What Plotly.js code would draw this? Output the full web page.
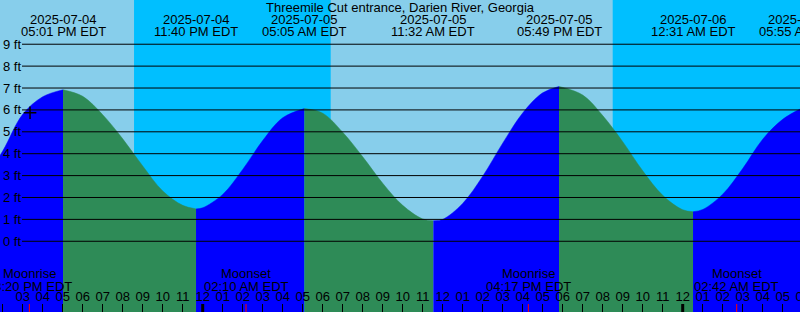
<!DOCTYPE html>
<html>
<head>
<meta charset="utf-8">
<script src="https://cdn.plot.ly/plotly-3.0.1.min.js"></script>
<style>html,body{margin:0;padding:0;overflow:hidden;background:#87CEEB}</style>
</head>
<body>
<div id="chart"></div>
<script>
const titleText = 'Threemile Cut entrance, Darien River, Georgia';

// Tide height read at each hour (ft)
const hourTimes = [
  '2025-07-04 13:00','2025-07-04 14:00','2025-07-04 15:00','2025-07-04 16:00','2025-07-04 17:00',
  '2025-07-04 18:00','2025-07-04 19:00','2025-07-04 20:00','2025-07-04 21:00','2025-07-04 22:00','2025-07-04 23:00',
  '2025-07-05 00:00','2025-07-05 01:00','2025-07-05 02:00','2025-07-05 03:00','2025-07-05 04:00','2025-07-05 05:00',
  '2025-07-05 06:00','2025-07-05 07:00','2025-07-05 08:00','2025-07-05 09:00','2025-07-05 10:00','2025-07-05 11:00',
  '2025-07-05 12:00','2025-07-05 13:00','2025-07-05 14:00','2025-07-05 15:00','2025-07-05 16:00','2025-07-05 17:00',
  '2025-07-05 18:00','2025-07-05 19:00','2025-07-05 20:00','2025-07-05 21:00','2025-07-05 22:00','2025-07-05 23:00',
  '2025-07-06 00:00','2025-07-06 01:00','2025-07-06 02:00','2025-07-06 03:00','2025-07-06 04:00','2025-07-06 05:00',
  '2025-07-06 06:00'
];
const hourHeights = [
  2.7, 4.12, 5.8, 6.6, 6.92,
  6.62, 5.78, 4.68, 3.44, 2.3, 1.64,
  1.53, 2.14, 3.28, 4.6, 5.64, 6.05,
  5.85, 4.98, 3.86, 2.65, 1.64, 1.02,
  1.0, 1.73, 2.97, 4.48, 5.86, 6.78,
  7.04, 6.68, 5.74, 4.55, 3.22, 2.1,
  1.44, 1.45, 2.15, 3.32, 4.66, 5.57,
  6.05
];

// High / low tide events
const eventTimes = ['2025-07-04 17:01','2025-07-04 23:40','2025-07-05 05:05','2025-07-05 11:32','2025-07-05 17:49','2025-07-06 00:31','2025-07-06 05:55'];
const eventHeights = [6.92, 1.48, 6.06, 0.94, 7.07, 1.35, 6.06];
const eventDates = ['2025-07-04','2025-07-04','2025-07-05','2025-07-05','2025-07-05','2025-07-06','2025-07-06'];
const eventClock = ['05:01 PM EDT','11:40 PM EDT','05:05 AM EDT','11:32 AM EDT','05:49 PM EDT','12:31 AM EDT','05:55 AM EDT'];

// Moon events
const moonTimes = ['2025-07-04 15:20','2025-07-05 02:10','2025-07-05 16:17','2025-07-06 02:42'];
const moonNames = ['Moonrise','Moonset','Moonrise','Moonset'];
const moonClock = ['03:20 PM EDT','02:10 AM EDT','04:17 PM EDT','02:42 AM EDT'];

// Night periods (sunset -> sunrise)
const nightStarts = ['2025-07-04 20:34','2025-07-05 20:30'];
const nightEnds = ['2025-07-05 06:24','2025-07-06 06:24'];

const midnights = ['2025-07-05 00:00','2025-07-06 00:00'];

const heightTicks = [0,1,2,3,4,5,6,7,8,9];
const heightTickText = ['0 ft','1 ft','2 ft','3 ft','4 ft','5 ft','6 ft','7 ft','8 ft','9 ft'];

const markTime = ['2025-07-04 15:22'];
const markHeight = [5.87];

// ---------- styling ----------
const FONT = 'Liberation Sans, Arial, sans-serif';
const DAY = '#87CEEB', NIGHT = '#00BFFF', RISE = '#0000FF', FALL = '#2E8B57';
const W = 810, H = 312;
const yBottom = -5;
const toMs = s => new Date(s.replace(' ', 'T')).getTime();
const GAP = 15 * 60 * 1000; // skip hourly readings this close to an extreme

// build segments between extremes
const bounds = [{t: hourTimes[0], h: hourHeights[0]}].concat(eventTimes.map((t, i) => ({t, h: eventHeights[i]})));
const traces = [];
for (let s = 0; s < bounds.length - 1; s++) {
  const a = bounds[s], b = bounds[s + 1];
  const xs = [a.t], ys = [a.h];
  hourTimes.forEach((t, i) => {
    const m = toMs(t);
    if (m > toMs(a.t) + GAP && m < toMs(b.t) - GAP) { xs.push(t); ys.push(hourHeights[i]); }
  });
  xs.push(b.t); ys.push(b.h);
  const col = b.h > a.h ? RISE : FALL;
  traces.push({x: [a.t, b.t], y: [yBottom, yBottom], mode: 'lines', line: {width: 0}, hoverinfo: 'skip', showlegend: false});
  traces.push({x: xs, y: ys, mode: 'lines', line: {width: 0.5, color: col, shape: 'spline', smoothing: 1}, fill: 'tonexty', fillcolor: col, hoverinfo: 'skip', showlegend: false});
}
traces.push({x: markTime, y: markHeight, mode: 'markers', marker: {symbol: 'cross-thin-open', size: 9, line: {width: 1.5, color: '#000'}, color: '#000'}, showlegend: false, hoverinfo: 'skip'});

const shapes = [];
nightStarts.forEach((t, i) => shapes.push({type: 'rect', xref: 'x', yref: 'paper', x0: t, x1: nightEnds[i], y0: 0, y1: 1, fillcolor: NIGHT, line: {width: 0}, layer: 'below'}));
heightTicks.forEach(v => shapes.push({type: 'line', xref: 'paper', yref: 'y', x0: 22 / W, x1: 1, y0: v, y1: v, line: {color: '#000', width: 1}, layer: 'above'}));
midnights.forEach(t => shapes.push({type: 'line', xref: 'x', yref: 'paper', x0: t, x1: t, y0: 0, y1: 8 / H, line: {color: '#000', width: 3}, layer: 'above'}));
moonTimes.forEach(t => shapes.push({type: 'line', xref: 'x', yref: 'paper', x0: t, x1: t, y0: 0, y1: 8 / H, line: {color: '#FF0000', width: 1}, layer: 'above'}));

const annotations = [];
const tf = {family: FONT, size: 13, color: '#000'};
heightTicks.forEach((v, i) => annotations.push({xref: 'paper', yref: 'y', x: 2 / W, y: v, xanchor: 'left', yanchor: 'middle', text: heightTickText[i], showarrow: false, font: tf, borderpad: 0}));
eventTimes.forEach((t, i) => {
  annotations.push({xref: 'x', yref: 'paper', x: t, y: 1 - 19 / H, xanchor: 'center', yanchor: 'middle', text: eventDates[i], showarrow: false, font: tf, borderpad: 0});
  annotations.push({xref: 'x', yref: 'paper', x: t, y: 1 - 32 / H, xanchor: 'center', yanchor: 'middle', text: eventClock[i], showarrow: false, font: tf, borderpad: 0});
});
moonTimes.forEach((t, i) => {
  annotations.push({xref: 'x', yref: 'paper', x: t, y: 1 - 273 / H, xanchor: 'center', yanchor: 'middle', text: moonNames[i], showarrow: false, font: tf, borderpad: 0});
  annotations.push({xref: 'x', yref: 'paper', x: t, y: 1 - 286 / H, xanchor: 'center', yanchor: 'middle', text: moonClock[i], showarrow: false, font: tf, borderpad: 0});
});

const layout = {
  width: W, height: H,
  margin: {l: 0, r: 0, t: 0, b: 0, pad: 0},
  paper_bgcolor: DAY, plot_bgcolor: DAY,
  showlegend: false,
  title: {text: titleText, x: 400 / W, xanchor: 'center', xref: 'paper', y: 1 - 7.5 / H, yanchor: 'middle', yref: 'container', font: tf, pad: {t: 0, b: 0, l: 0, r: 0}},
  xaxis: {
    type: 'date', range: ['2025-07-04 13:51:54', '2025-07-06 06:21:54'],
    tickmode: 'linear', tick0: '2025-07-04 00:00', dtick: 3600000, tickformat: '%I',
    ticks: 'inside', ticklen: 8, tickwidth: 1, tickcolor: '#000',
    ticklabelposition: 'inside', tickfont: tf,
    showgrid: false, zeroline: false, showline: false, fixedrange: true
  },
  yaxis: {range: [-3.23, 11.02], visible: false, fixedrange: true},
  shapes, annotations
};

Plotly.newPlot('chart', traces, layout, {staticPlot: true, displayModeBar: false});
</script>
</body>
</html>
